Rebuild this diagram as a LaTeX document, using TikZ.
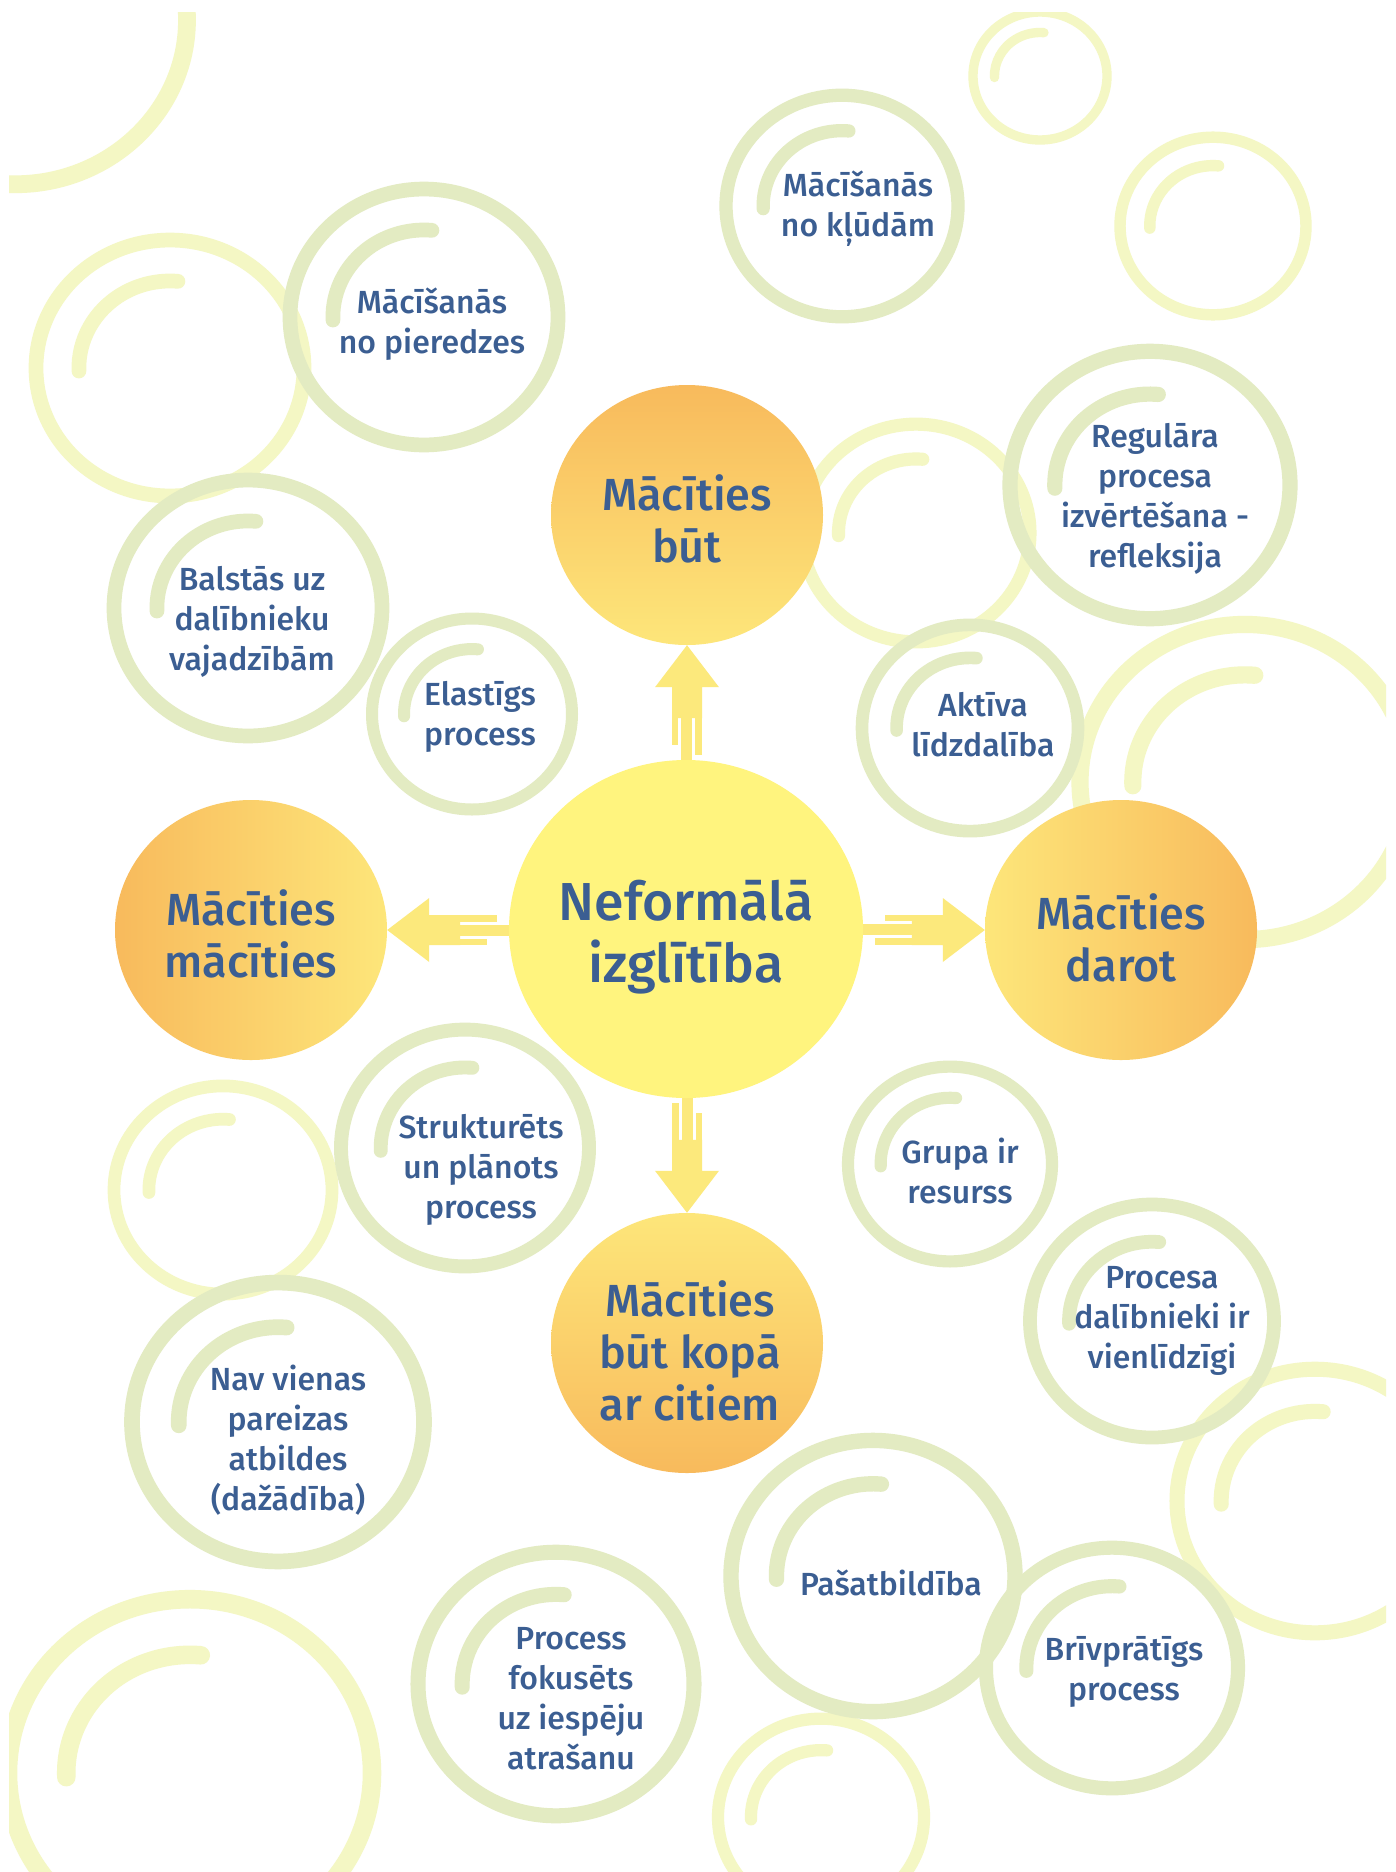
\documentclass[tikz,border=0pt]{standalone}
\usepackage{fontspec}
\usetikzlibrary{shapes.geometric,calc}
\IfFontExistsTF{Fira Sans Medium}{\newfontfamily\labfont{Fira Sans Medium}}{%
  \IfFontExistsTF{Fira Sans SemiBold}{\newfontfamily\labfont{Fira Sans SemiBold}}{\newfontfamily\labfont{Fira Sans Bold}}}
\definecolor{txt}{RGB}{59,94,146}
\definecolor{orng}{RGB}{248,186,92}
\definecolor{yelw}{RGB}{253,230,122}
\definecolor{ctr}{RGB}{255,244,126}
\definecolor{arw}{RGB}{252,233,124}
\definecolor{ringg}{RGB}{227,235,194}
\definecolor{ringy}{RGB}{244,247,196}
\pgfdeclarelayer{bg}
\pgfsetlayers{bg,main}
\newcommand\mybub[4]{%
  \pgfmathsetmacro\bry{0.955*#3}%
  \pgfmathsetmacro\blw{0.08*#3+4}%
  \draw[draw=#4, line width=\blw pt] (#1,#2) ellipse [x radius=#3, y radius=\bry];
  \draw[draw=#4, line width=\blw pt, line cap=round]
    ([shift={(178:{0.68*#3} and {0.68*\bry})}]#1,#2)
    arc [start angle=178, end angle=275, x radius={0.68*#3}, y radius={0.68*\bry}];
}
\newcommand\sparrow[2]{%
  \begin{scope}[shift={(#1)}, rotate=#2]
    \fill[arw] (0,0) -- (42,32) -- (42,15) -- (73,15) -- (73,-15) -- (42,-15) -- (42,-32) -- cycle;
    \fill[arw] (72,15) rectangle (100,9);
    \fill[arw] (72,6) rectangle (150,-5);
    \fill[arw] (72,-8) rectangle (110,-15);
  \end{scope}}
\tikzset{
  orb/.style={ellipse, minimum width=272pt, minimum height=260pt, inner sep=0pt, draw=none},
  lab/.style={font={\labfont\fontsize{32pt}{40pt}\selectfont}, text=txt, align=center, inner sep=0pt},
  mtext/.style={font={\labfont\fontsize{45pt}{52pt}\selectfont}, text=txt, align=center, inner sep=0pt},
  ctext/.style={font={\labfont\fontsize{53.5pt}{62pt}\selectfont}, text=txt, align=center, inner sep=0pt}
}
\begin{document}
\begin{tikzpicture}[x=1pt,y=-1pt]
\useasboundingbox (0,0) rectangle (1396,1872);
% main circles
\node[ellipse, minimum width=354pt, minimum height=338pt, inner sep=0pt, fill=ctr] (nf) at (686,929) {};
\node[orb, top color=orng, bottom color=yelw] (but) at (687,515) {};
\node[orb, left color=orng, right color=yelw] (mm) at (251,930) {};
\node[orb, left color=yelw, right color=orng] (darot) at (1121,930) {};
\node[orb, top color=yelw, bottom color=orng] (kopa) at (687,1343) {};
\node[ctext] (nft) at (686,937) {Neformālā\\izglītība};
\node[mtext] (butt) at (687,519) {Mācīties\\būt};
\node[mtext] (mmt) at (251,934) {Mācīties\\mācīties};
\node[mtext] (darott) at (1121,938) {Mācīties\\darot};
\node[mtext] (kopat) at (690,1351) {Mācīties\\būt kopā\\ar citiem};
% labels
\node[lab] (a) at (432,324) {Mācīšanās\\no pieredzes};
\node[lab] (b) at (858,209) {Mācīšanās\\no kļūdām};
\node[lab] (c) at (1155,499) {Regulāra\\procesa\\izvērtēšana -\\refleksija};
\node[lab] (d) at (252,622) {Balstās uz\\dalībnieku\\vajadzībām};
\node[lab] (e) at (480,717) {Elastīgs\\process};
\node[lab] (f) at (983,725) {Aktīva\\līdzdalība};
\node[lab] (g) at (481,1170) {Strukturēts\\un plānots\\process};
\node[lab] (h) at (960,1171) {Grupa ir\\resurss};
\node[lab] (i) at (1162,1321) {Procesa\\dalībnieki ir\\vienlīdzīgi};
\node[lab] (j) at (288,1440) {Nav vienas\\pareizas\\atbildes\\(dažādība)};
\node[lab] (k) at (571,1699) {Process\\fokusēts\\uz iespēju\\atrašanu};
\node[lab] (l) at (891,1583) {Pašatbildība};
\node[lab] (m) at (1124,1672) {Brīvprātīgs\\process};
\begin{pgfonlayer}{bg}
\fill[white] (0,0) rectangle (1396,1872);
\begin{scope}
\clip (9,12) rectangle (1386,1872);
% empty bubbles
\mybub{15}{20}{172}{ringy}
\mybub{1040}{76}{67}{ringy}
\mybub{1213}{226}{93}{ringy}
\mybub{170}{368}{134}{ringy}
\mybub{916}{533}{114}{ringy}
\mybub{1245}{782}{165}{ringy}
\mybub{223}{1190}{109}{ringy}
\mybub{1315}{1501}{138}{ringy}
\mybub{190}{1773}{182}{ringy}
\mybub{821}{1817}{103}{ringy}
% label rings
\mybub{424}{317}{134}{ringg}
\mybub{842}{206}{116}{ringg}
\mybub{1150}{485}{140}{ringg}
\mybub{248}{608}{134}{ringg}
\mybub{472}{714}{100}{ringg}
\mybub{970}{728}{108}{ringg}
\mybub{465}{1148}{124}{ringg}
\mybub{950}{1164}{102}{ringg}
\mybub{1152}{1321}{122}{ringg}
\mybub{278}{1422}{146}{ringg}
\mybub{556}{1684}{138}{ringg}
\mybub{873}{1576}{142}{ringg}
\mybub{1112}{1668}{126}{ringg}
\end{scope}
% arrows from the centre to the four circles
\sparrow{but.south}{-90}
\sparrow{mm.east}{0}
\sparrow{darot.west}{180}
\sparrow{kopa.north}{90}
\end{pgfonlayer}
\end{tikzpicture}
\end{document}
